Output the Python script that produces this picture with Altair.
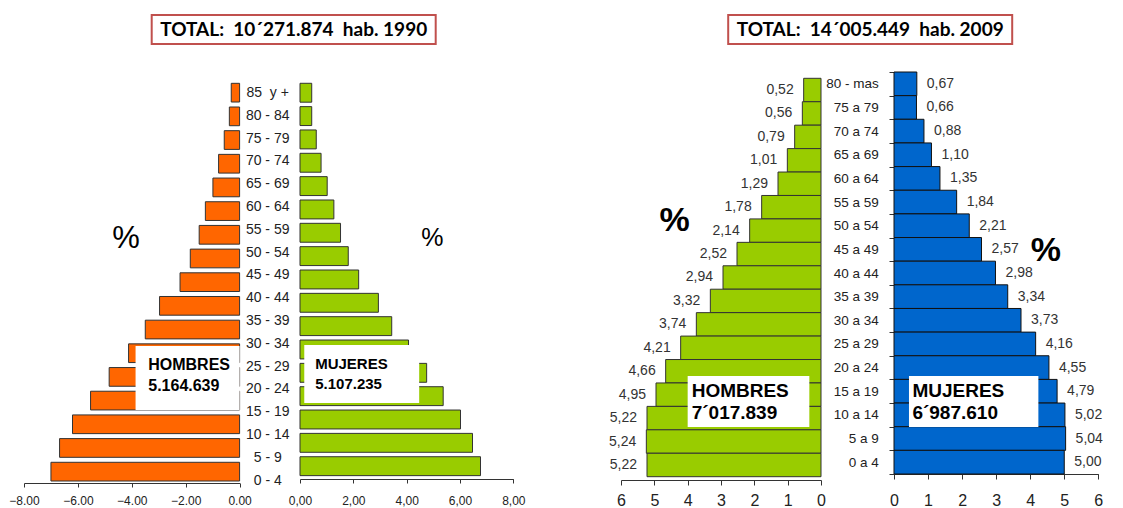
import altair as alt
import pandas as pd

# ---------------- data ----------------
ages_1990 = ["85  y +", "80 - 84", "75 - 79", "70 - 74", "65 - 69", "60 - 64", "55 - 59",
             "50 - 54", "45 - 49", "40 - 44", "35 - 39", "30 - 34", "25 - 29", "20 - 24",
             "15 - 19", "10 - 14", "5 - 9", "0 - 4"]
men_1990 = [0.31, 0.38, 0.57, 0.78, 0.99, 1.27, 1.50, 1.83, 2.21, 2.97, 3.50, 4.12,
            4.84, 5.53, 6.20, 6.68, 7.00]
women_1990 = [0.44, 0.44, 0.61, 0.79, 1.02, 1.27, 1.52, 1.81, 2.20, 2.94, 3.44, 4.07,
              4.75, 5.37, 6.02, 6.47, 6.77]

ages_2009 = ["80 - mas", "75 a 79", "70 a 74", "65 a 69", "60 a 64", "55 a 59", "50 a 54",
             "45 a 49", "40 a 44", "35 a 39", "30 a 34", "25 a 29", "20 a 24", "15 a 19",
             "10 a 14", "5 a 9", "0 a 4"]
men_2009 = [0.52, 0.56, 0.79, 1.01, 1.29, 1.78, 2.14, 2.52, 2.94, 3.32, 3.74, 4.21,
            4.66, 4.95, 5.22, 5.24, 5.22]
women_2009 = [0.67, 0.66, 0.88, 1.10, 1.35, 1.84, 2.21, 2.57, 2.98, 3.34, 3.73, 4.16,
              4.55, 4.79, 5.02, 5.04, 5.00]

titles = ["TOTAL:  10´271.874  hab. 1990", "TOTAL:  14´005.449  hab. 2009"]
sex_labels = ["HOMBRES", "MUJERES"]
totals_1990 = ["5.164.639", "5.107.235"]
totals_2009 = ["7´017.839", "6´987.610"]
pct = "%"

ticks_1990_m = [-8, -6, -4, -2, 0]
ticks_1990_f = [0, 2, 4, 6, 8]
ticks_2009 = [0, 1, 2, 3, 4, 5, 6]

# ---------------- style ----------------
ORANGE = "#FF6600"
GREEN = "#99CC00"
BLUE = "#0066CC"
EDGE = "#333333"
RED = "#C0504D"
ARIAL = "'Liberation Sans', Arial, sans-serif"
TITLEF = "Lato, 'Open Sans', sans-serif"
COMMA = "replace(format(datum.value, '.2f'), '.', ',')"


def keep_spaces(s):
    # SVG collapses runs of spaces; keep the doubled spacing visible
    return s.replace("  ", " \u00a0")


def note(text, x, ypx, size, ax, bold=False, align="left"):
    d = pd.DataFrame({"t": [text]})
    return alt.Chart(d).mark_text(
        align=align, baseline="middle", fontSize=size,
        fontWeight="bold" if bold else "normal", font=ARIAL, color="black"
    ).encode(x=alt.XDatum(x, axis=ax), y=alt.value(ypx), text="t:N")


def box(x1, x2, y1, y2, ax):
    d = pd.DataFrame({"a": [0]})
    return alt.Chart(d).mark_rect(fill="white").encode(
        x=alt.XDatum(x1, axis=ax), x2=alt.datum(x2), y=alt.value(y1), y2=alt.value(y2))


def title_box(text, x1, x2):
    d = pd.DataFrame({"t": [keep_spaces(text)]})
    r = alt.Chart(d).mark_rect(fill="white", stroke=RED, strokeWidth=2).encode(
        x=alt.value(x1), x2=alt.value(x2), y=alt.value(-57), y2=alt.value(-28))
    t = alt.Chart(d).mark_text(font=TITLEF, fontSize=19, fontWeight="bold", color="black",
                               align="center", baseline="middle").encode(
        x=alt.value((x1 + x2) / 2), y=alt.value(-42), text="t:N")
    return [r, t]


def spacer(w):
    d = pd.DataFrame({"a": [0]})
    return alt.Chart(d).mark_rect(opacity=0).encode(
        x=alt.value(0), x2=alt.value(1), y=alt.value(0), y2=alt.value(1)
    ).properties(width=w, height=1)


axis90 = dict(title=None, grid=False, domainColor=EDGE, tickColor=EDGE, tickSize=4,
              labelFont=ARIAL, labelFontSize=12, labelColor="#222",
              labelFlush=False, labelOverlap=False)
axis09 = dict(title=None, grid=False, domainColor=EDGE, tickColor=EDGE, tickSize=5,
              labelFont=ARIAL, labelFontSize=16, labelColor="#222",
              labelFlush=False, labelOverlap=False, values=ticks_2009, format="d")

ax_m90 = alt.Axis(values=ticks_1990_m, format=".2f", labelPadding=8, **axis90)
ax_f90 = alt.Axis(values=ticks_1990_f, labelExpr=COMMA, labelPadding=12, **axis90)
ax_m09 = alt.Axis(labelPadding=7, **axis09)
ax_f09 = alt.Axis(labelPadding=13, **axis09)
ax_f09_y = alt.Axis(title=None, tickBand="extent", tickSize=5, labelPadding=10.7,
                    labelFont=ARIAL, labelFontSize=13.5, labelColor="#222",
                    domainColor=EDGE, tickColor=EDGE)

# ---------------- 1990 men ----------------
rows90 = list(range(len(men_1990)))
df_m90 = pd.DataFrame({"row": rows90, "v": men_1990})
df_f90 = pd.DataFrame({"row": rows90, "v": women_1990})

m90_bars = alt.Chart(df_m90).transform_calculate(neg="-datum.v").mark_bar(
    fill=ORANGE, stroke=EDGE, strokeWidth=1
).encode(
    x=alt.X("neg:Q", scale=alt.Scale(domain=[-8, 0], nice=False), axis=ax_m90),
    y=alt.Y("row:O", axis=None,
            scale=alt.Scale(paddingInner=0.21, paddingOuter=0.281, align=0.85)),
)
m90 = alt.layer(
    m90_bars,
    box(-3.86, 0, 274, 338, ax_m90),
    note(sex_labels[0], -3.39, 293, 16, ax_m90, True),
    note(totals_1990[0], -3.39, 313.5, 16, ax_m90, True),
    note(pct, -4.21, 166.5, 31, ax_m90, align="center"),
).properties(width=215.6, height=411)

# ---------------- 1990 labels column ----------------
lab90 = alt.Chart(pd.DataFrame({"age": [keep_spaces(a) for a in ages_1990]})).mark_text(
    font=ARIAL, fontSize=14, color="#222", baseline="middle", align="center"
).encode(
    y=alt.Y("age:N", sort=None, axis=None,
            scale=alt.Scale(type="point", padding=0.513, align=0.897)),
    x=alt.value(27.7),
    text="age:N",
)
labels90 = alt.layer(lab90, *title_box(titles[0], -88.3, 195.7)).properties(width=59.4, height=411)

# ---------------- 1990 women ----------------
f90_bars = alt.Chart(df_f90).mark_bar(fill=GREEN, stroke=EDGE, strokeWidth=1).encode(
    x=alt.X("v:Q", scale=alt.Scale(domain=[0, 8], nice=False), axis=ax_f90),
    y=alt.Y("row:O", axis=None,
            scale=alt.Scale(paddingInner=0.19, paddingOuter=0.314, align=0.77)),
)
f90 = alt.layer(
    f90_bars,
    box(0.16, 4.47, 273, 331, ax_f90),
    note(sex_labels[1], 0.57, 292, 15, ax_f90, True),
    note(totals_1990[1], 0.57, 312, 15, ax_f90, True),
    note(pct, 4.96, 166, 25, ax_f90, align="center"),
).properties(width=213.3, height=407)

# ---------------- 2009 men ----------------
df_m09 = pd.DataFrame({"age": ages_2009, "v": men_2009})
df_f09 = pd.DataFrame({"age": ages_2009, "v": women_2009})
LAB = "replace(format(datum.v, '.2f'), '.', ',')"

base_m09 = alt.Chart(df_m09).transform_calculate(lab=LAB)
m09_bars = base_m09.mark_bar(fill=GREEN, stroke=EDGE, strokeWidth=1).encode(
    x=alt.X("v:Q", scale=alt.Scale(domain=[0, 6], reverse=True, nice=False), axis=ax_m09),
    y=alt.Y("age:N", sort=None, axis=None,
            scale=alt.Scale(paddingInner=0, paddingOuter=0.205, align=0.656)),
)
m09_vals = base_m09.mark_text(align="right", dx=-10, baseline="middle", font=ARIAL,
                              fontSize=14, color="#333").encode(
    x=alt.X("v:Q", axis=ax_m09), y=alt.Y("age:N", sort=None, axis=None), text="lab:N")
m09 = alt.layer(
    m09_bars, m09_vals,
    box(4.0, 0.35, 304, 355, ax_m09),
    note(sex_labels[0], 3.88, 318.5, 19, ax_m09, True),
    note(totals_2009[0], 3.88, 341, 19, ax_m09, True),
    note(pct, 4.39, 148.5, 34, ax_m09, True, align="center"),
    *title_box(titles[1], 107.2, 391.2),
).properties(width=200, height=408)

# ---------------- 2009 women ----------------
base_f09 = alt.Chart(df_f09).transform_calculate(lab=LAB)
f09_bars = base_f09.mark_bar(fill=BLUE, stroke="#111111", strokeWidth=1).encode(
    x=alt.X("v:Q", scale=alt.Scale(domain=[0, 6], nice=False), axis=ax_f09),
    y=alt.Y("age:N", sort=None, scale=alt.Scale(paddingInner=0, paddingOuter=0), axis=ax_f09_y),
)
f09_vals = base_f09.mark_text(align="left", dx=10, baseline="middle", font=ARIAL,
                              fontSize=14, color="#333").encode(
    x=alt.X("v:Q", axis=ax_f09), y=alt.Y("age:N", sort=None, axis=ax_f09_y), text="lab:N")
f09 = alt.layer(
    f09_bars, f09_vals,
    box(0.44, 4.24, 304, 355, ax_f09),
    note(sex_labels[1], 0.54, 318.5, 19, ax_f09, True),
    note(totals_2009[1], 0.54, 341, 19, ax_f09, True),
    note(pct, 4.46, 178.5, 34, ax_f09, True, align="center"),
).properties(width=204.3, height=402)

chart = alt.hconcat(
    spacer(11.7), m90, labels90, f90, spacer(106.8), m09, spacer(72.4), f09,
    spacing=0, bounds="flush",
).properties(
    padding={"left": 0, "top": 6, "right": 5, "bottom": 0}
).configure_view(stroke=None).configure_axis(grid=False)

chart.save("out.html", embed_options={"renderer": "svg", "actions": False})
